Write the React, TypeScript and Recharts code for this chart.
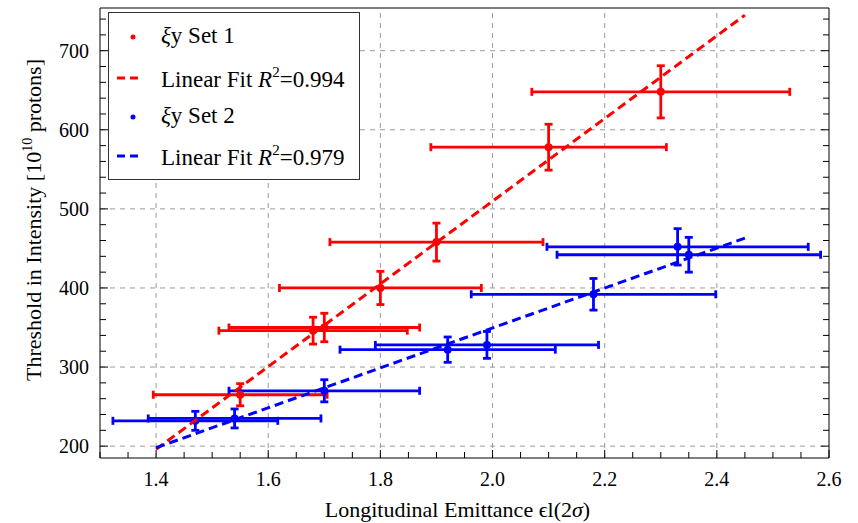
import React from 'react';
import { ScatterChart, Scatter, XAxis, YAxis, ErrorBar, ReferenceLine, Legend } from 'recharts';

// Set 1 / Set 2: longitudinal emittance (x) vs threshold intensity (y) with errors
const set1X = [1.55, 1.68, 1.7, 1.8, 1.9, 2.1, 2.3];
const set1Y = [265, 346, 350, 400, 458, 578, 648];
const set1Ex = [0.155, 0.168, 0.17, 0.18, 0.19, 0.21, 0.23];
const set1Ey = [14, 17, 18, 21, 24, 29, 33];

const set2X = [1.47, 1.54, 1.7, 1.92, 1.99, 2.18, 2.33, 2.35];
const set2Y = [232, 235, 270, 322, 328, 392, 452, 442];
const set2Ex = [0.147, 0.154, 0.17, 0.192, 0.199, 0.218, 0.233, 0.235];
const set2Ey = [12, 12, 14, 16, 17, 20, 23, 22];

// linear fits, endpoints
const fit1X = [1.4, 2.45];
const fit1Y = [196, 745];
const fit2X = [1.4, 2.45];
const fit2Y = [198, 463];

const xTicks = [
  1.3, 1.35, 1.4, 1.45, 1.5, 1.55, 1.6, 1.65, 1.7, 1.75, 1.8, 1.85, 1.9, 1.95, 2.0,
  2.05, 2.1, 2.15, 2.2, 2.25, 2.3, 2.35, 2.4, 2.45, 2.5, 2.55, 2.6,
];
const yTicks = [
  200, 220, 240, 260, 280, 300, 320, 340, 360, 380, 400, 420, 440, 460, 480, 500,
  520, 540, 560, 580, 600, 620, 640, 660, 680, 700, 720, 740,
];
const xGrid = [1.4, 1.6, 1.8, 2.0, 2.2, 2.4];
const yGrid = [200, 300, 400, 500, 600, 700];

const RED = '#ff0000';
const BLUE = '#0000ff';
const FONT = '"Liberation Serif", "Times New Roman", serif';

const set1 = set1X.map((x, i) => ({ x, y: set1Y[i], ex: set1Ex[i], ey: set1Ey[i] }));
const set2 = set2X.map((x, i) => ({ x, y: set2Y[i], ex: set2Ex[i], ey: set2Ey[i] }));
const fit1 = fit1X.map((x, i) => ({ x, y: fit1Y[i] }));
const fit2 = fit2X.map((x, i) => ({ x, y: fit2Y[i] }));

const isMajorX = (v: number) => Math.abs(v * 5 - Math.round(v * 5)) < 1e-6;
const isMajorY = (v: number) => v % 100 === 0;
const MAJOR = 8;
const MINOR = 6;

function BottomTick({ x, y, payload }: any) {
  const major = isMajorX(payload.value);
  return (
    <g>
      <line x1={x} y1={y} x2={x} y2={y - (major ? MAJOR : MINOR)} stroke="#000" />
      {major && (
        <text x={x} y={y + 28} textAnchor="middle" fontSize={20} fontFamily={FONT} fill="#000">
          {payload.value.toFixed(1)}
        </text>
      )}
    </g>
  );
}

function TopTick({ x, y, payload }: any) {
  const major = isMajorX(payload.value);
  return <line x1={x} y1={y} x2={x} y2={y + (major ? MAJOR : MINOR)} stroke="#000" />;
}

function LeftTick({ x, y, payload }: any) {
  const major = isMajorY(payload.value);
  return (
    <g>
      <line x1={x} y1={y} x2={x + (major ? MAJOR : MINOR)} y2={y} stroke="#000" />
      {major && (
        <text x={x - 11} y={y + 7} textAnchor="end" fontSize={20} fontFamily={FONT} fill="#000">
          {payload.value}
        </text>
      )}
    </g>
  );
}

function RightTick({ x, y, payload }: any) {
  const major = isMajorY(payload.value);
  return <line x1={x} y1={y} x2={x - (major ? MAJOR : MINOR)} y2={y} stroke="#000" />;
}

function XTitle({ viewBox }: any) {
  const cx = viewBox.x + viewBox.width / 2 - 7;
  return (
    <text x={cx} y={viewBox.y + 59} textAnchor="middle" fontSize={22} fontFamily={FONT} fill="#000">
      Longitudinal Emittance ϵl(2<tspan fontStyle="italic">σ</tspan>)
    </text>
  );
}

function YTitle({ viewBox }: any) {
  const cx = 33;
  const cy = viewBox.y + viewBox.height / 2 - 13;
  return (
    <text
      x={cx}
      y={cy}
      dy="0.35em"
      transform={`rotate(-90, ${cx}, ${cy})`}
      textAnchor="middle"
      fontSize={22}
      fontFamily={FONT}
      fill="#000"
    >
      Threshold in Intensity [10
      <tspan fontSize={14} dy={-9}>10</tspan>
      <tspan dy={9}> protons]</tspan>
    </text>
  );
}

function FitLabel({ y, r2 }: { y: number; r2: string }) {
  return (
    <text x={52} y={y} fontSize={23} fontFamily={FONT} fill="#000">
      Linear Fit <tspan fontStyle="italic">R</tspan>
      <tspan fontSize={15} dy={-10}>2</tspan>
      <tspan dy={10}>={r2}</tspan>
    </text>
  );
}

function LegendBox() {
  return (
    <div style={{ width: 252, height: 168, border: '1px solid #333', background: '#fff', boxSizing: 'border-box' }}>
      <svg width={250} height={166}>
        <circle cx={24} cy={24} r={2.5} fill={RED} />
        <text x={52} y={30} fontSize={23} fontFamily={FONT} fill="#000">
          <tspan fontStyle="italic">ξ</tspan>y Set 1
        </text>
        <line x1={8} y1={65} x2={29} y2={65} stroke={RED} strokeWidth={3} strokeDasharray="8 5" />
        <FitLabel y={74} r2="0.994" />
        <circle cx={24} cy={104} r={2.5} fill={BLUE} />
        <text x={52} y={110} fontSize={23} fontFamily={FONT} fill="#000">
          <tspan fontStyle="italic">ξ</tspan>y Set 2
        </text>
        <line x1={8} y1={143} x2={29} y2={143} stroke={BLUE} strokeWidth={3} strokeDasharray="8 5" />
        <FitLabel y={152} r2="0.979" />
      </svg>
    </div>
  );
}

const dot = (color: string) => (p: any) => <circle cx={p.cx} cy={p.cy} r={4} fill={color} />;
const noDot = () => <g />;

export default function App() {
  return (
    <div style={{ position: 'absolute', left: 0, top: 0, background: '#fff' }}>
      <ScatterChart width={858} height={523} margin={{ top: 7, right: 28, bottom: 0, left: 0 }}>
        <XAxis
          type="number"
          dataKey="x"
          domain={[1.3, 2.6]}
          allowDataOverflow
          ticks={xTicks}
          interval={0}
          height={65}
          tickSize={0}
          tickMargin={0}
          tickLine={false}
          tick={(p: any) => <BottomTick {...p} />}
          axisLine={{ stroke: '#000' }}
          label={(p: any) => <XTitle {...p} />}
        />
        <XAxis
          xAxisId="top"
          orientation="top"
          type="number"
          domain={[1.3, 2.6]}
          allowDataOverflow
          ticks={xTicks}
          interval={0}
          height={1}
          tickSize={0}
          tickMargin={0}
          tickLine={false}
          tick={(p: any) => <TopTick {...p} />}
          axisLine={{ stroke: '#000' }}
        />
        <YAxis
          type="number"
          dataKey="y"
          domain={[185, 754]}
          allowDataOverflow
          ticks={yTicks}
          interval={0}
          width={100}
          tickSize={0}
          tickMargin={0}
          tickLine={false}
          tick={(p: any) => <LeftTick {...p} />}
          axisLine={{ stroke: '#000' }}
          label={(p: any) => <YTitle {...p} />}
        />
        <YAxis
          yAxisId="right"
          orientation="right"
          type="number"
          domain={[185, 754]}
          allowDataOverflow
          ticks={yTicks}
          interval={0}
          width={1}
          tickSize={0}
          tickMargin={0}
          tickLine={false}
          tick={(p: any) => <RightTick {...p} />}
          axisLine={{ stroke: '#000' }}
        />
        {xGrid.map((v) => (
          <ReferenceLine key={`gx${v}`} x={v} stroke="#9a9a9a" strokeDasharray="5 5" />
        ))}
        {yGrid.map((v) => (
          <ReferenceLine key={`gy${v}`} y={v} stroke="#9a9a9a" strokeDasharray="5 5" />
        ))}
        <Scatter data={set1} fill={RED} shape={dot(RED)} isAnimationActive={false}>
          <ErrorBar dataKey="ex" direction="x" width={4} stroke={RED} strokeWidth={2.8} />
          <ErrorBar dataKey="ey" direction="y" width={4} stroke={RED} strokeWidth={2.8} />
        </Scatter>
        <Scatter data={set2} fill={BLUE} shape={dot(BLUE)} isAnimationActive={false}>
          <ErrorBar dataKey="ex" direction="x" width={4} stroke={BLUE} strokeWidth={2.8} />
          <ErrorBar dataKey="ey" direction="y" width={4} stroke={BLUE} strokeWidth={2.8} />
        </Scatter>
        <Scatter
          data={fit1}
          shape={noDot}
          line={{ stroke: RED, strokeWidth: 3, strokeDasharray: '9 5' }}
          isAnimationActive={false}
        />
        <Scatter
          data={fit2}
          shape={noDot}
          line={{ stroke: BLUE, strokeWidth: 3, strokeDasharray: '9 5' }}
          isAnimationActive={false}
        />
        <Legend
          layout="vertical"
          align="center"
          verticalAlign="middle"
          wrapperStyle={{ left: 108, top: 12, width: 252, height: 168 }}
          content={() => <LegendBox />}
        />
      </ScatterChart>
    </div>
  );
}
